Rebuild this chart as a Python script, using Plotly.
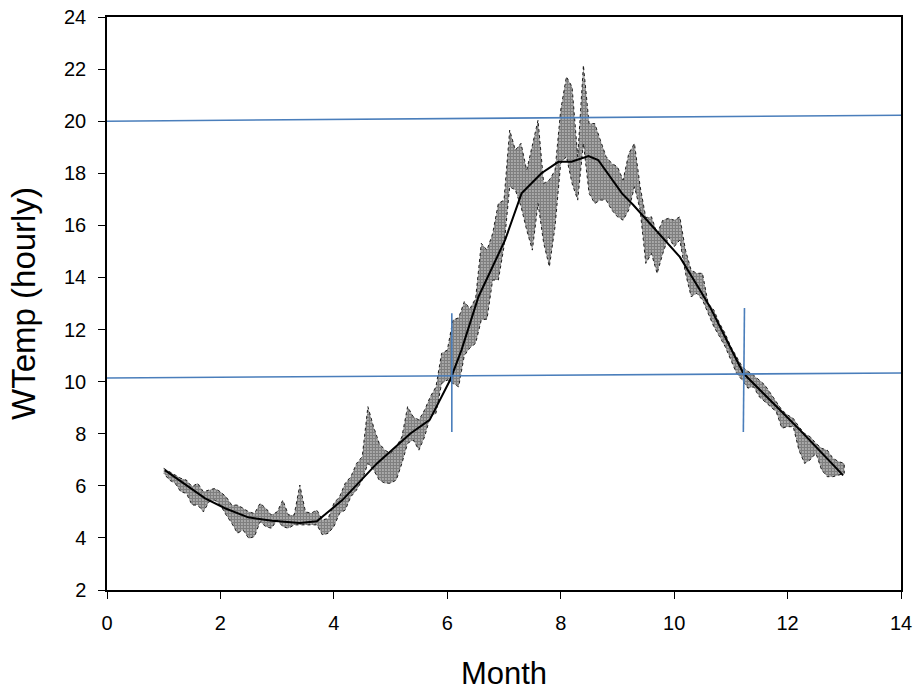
import plotly.graph_objects as go

# hourly water temperature cloud, read as low/high envelope every 0.1 month
cloud_month = [round(1.0 + 0.1 * i, 1) for i in range(121)]
cloud_low = [
    6.48, 6.22, 6.10, 5.77, 5.71, 5.26, 5.26, 5.00, 5.39, 5.45,
    5.26, 4.88, 4.56, 4.18, 4.30, 3.98, 4.05, 4.62, 4.43, 4.37,
    4.69, 4.43, 4.37, 4.50, 4.50, 4.50, 4.50, 4.50, 4.11, 4.18,
    4.43, 4.94, 5.07, 5.58, 5.84, 6.22, 6.86, 6.61, 6.22, 6.10,
    6.10, 6.22, 6.86, 7.63, 7.76, 7.37, 7.88, 8.65, 8.78, 9.93,
    10.06, 9.93, 9.80, 11.00, 11.30, 11.47, 12.37, 12.40, 13.90, 13.90,
    15.18, 17.48, 17.36, 16.72, 15.82, 15.05, 16.84, 15.31, 14.41, 15.95,
    18.38, 18.64, 17.61, 16.97, 19.15, 17.23, 16.84, 16.97, 16.97, 16.59,
    16.33, 16.20, 16.59, 17.48, 16.60, 14.54, 14.92, 14.15, 14.92, 15.56,
    15.18, 15.44, 14.16, 13.26, 13.39, 13.13, 12.62, 12.11, 11.73, 11.34,
    10.83, 10.32, 10.06, 9.75, 9.80, 9.42, 9.23, 9.04, 8.84, 8.21,
    8.27, 8.27, 7.37, 6.86, 7.00, 7.25, 6.61, 6.35, 6.35, 6.41,
    6.48,
]
cloud_high = [
    6.67, 6.54, 6.41, 6.29, 6.22, 5.97, 6.10, 5.77, 5.84, 5.90,
    5.77, 5.58, 5.26, 5.26, 5.14, 5.00, 4.94, 5.33, 5.14, 4.88,
    5.00, 5.45, 4.88, 4.88, 6.03, 5.00, 4.95, 5.07, 4.69, 4.75,
    5.33, 5.58, 6.10, 6.35, 6.86, 7.12, 9.04, 8.27, 7.63, 7.37,
    7.25, 7.50, 7.88, 9.04, 8.65, 8.53, 8.91, 9.42, 9.80, 11.09,
    11.21, 12.37, 12.45, 13.07, 12.80, 13.20, 15.31, 15.05, 15.69, 16.84,
    16.97, 19.66, 18.89, 19.15, 18.12, 19.02, 20.04, 17.61, 17.74, 18.12,
    20.43, 21.71, 21.32, 18.64, 22.15, 19.91, 19.91, 19.27, 18.64, 18.38,
    18.25, 17.74, 18.76, 19.15, 17.50, 16.30, 16.33, 15.69, 16.20, 16.27,
    16.20, 16.33, 15.05, 14.28, 14.16, 14.16, 13.00, 12.75, 12.24, 11.85,
    11.34, 10.96, 10.57, 10.40, 10.25, 10.06, 9.87, 9.55, 9.23, 8.91,
    8.72, 8.59, 8.27, 8.01, 7.88, 7.63, 7.44, 7.37, 7.06, 6.93,
    6.86,
]

# smoothed black curve
mean_month = [1.02, 1.73, 2.08, 2.49, 2.91, 3.40, 3.70, 4.15, 4.76, 5.35,
              5.69, 6.05, 6.25, 6.55, 7.02, 7.31, 7.66, 7.96, 8.19, 8.49,
              8.66, 9.08, 9.28, 10.10, 10.46, 10.63, 11.22, 12.22, 12.98]
mean_temp = [6.60, 5.52, 5.14, 4.79, 4.66, 4.57, 4.64, 5.45, 6.86, 8.01,
             8.53, 10.06, 11.21, 13.26, 15.44, 17.23, 18.00, 18.44, 18.44, 18.66,
             18.51, 17.23, 16.78, 14.79, 13.50, 12.88, 10.32, 8.14, 6.40]

# blue reference lines
upper_x = [0, 14]
upper_y = [20.0, 20.23]
lower_x = [0, 14]
lower_y = [10.14, 10.33]
vert1_x = [6.08, 6.08]
vert1_y = [8.07, 12.63]
vert2_x = [11.22, 11.24]
vert2_y = [8.07, 12.83]

x_ticks = [0, 2, 4, 6, 8, 10, 12, 14]
y_ticks = [2, 4, 6, 8, 10, 12, 14, 16, 18, 20, 22, 24]

blue = "#4a7ebb"

fig = go.Figure()

poly_x = cloud_month + cloud_month[::-1]
poly_y = cloud_high + cloud_low[::-1]
fig.add_trace(go.Scatter(
    x=poly_x, y=poly_y, mode="lines", fill="toself",
    line=dict(width=1, color="rgba(0,0,0,0.85)", dash="dot"),
    fillcolor="rgba(0,0,0,0)",
    fillpattern=dict(shape=".", fgcolor="black", bgcolor="rgba(0,0,0,0)",
                     size=3, solidity=0.8),
    hoverinfo="skip", showlegend=False,
))

fig.add_trace(go.Scatter(x=mean_month, y=mean_temp, mode="lines",
                         line=dict(color="black", width=2), showlegend=False))

for xs, ys in [(upper_x, upper_y), (lower_x, lower_y), (vert1_x, vert1_y), (vert2_x, vert2_y)]:
    fig.add_trace(go.Scatter(x=xs, y=ys, mode="lines",
                             line=dict(color=blue, width=1.6), showlegend=False))

axis_common = dict(
    showgrid=False, zeroline=False, showline=True, linecolor="black", linewidth=1.5,
    mirror=True, ticks="outside", ticklen=7, tickwidth=1.2, tickcolor="black",
    automargin=False, ticklabeloverflow="allow",
    tickfont=dict(family="Liberation Sans, Arial", size=20, color="black"),
)

fig.update_layout(
    width=920, height=694,
    margin=dict(l=107, r=19, t=17, b=104),
    paper_bgcolor="white", plot_bgcolor="white",
    font=dict(family="Liberation Sans, Arial", color="black"),
    xaxis=dict(range=[0, 14], tickvals=x_ticks, ticklabelstandoff=7,
               title=dict(text="Month", font=dict(size=31), standoff=30),
               **axis_common),
    yaxis=dict(range=[2, 24], tickvals=y_ticks, ticklabelstandoff=8,
               title=dict(text="WTemp (hourly)", font=dict(size=33), standoff=18),
               **axis_common),
)

fig.write_html("out.html", config={"displayModeBar": False},
               post_script="document.body.style.margin='0';document.body.style.overflow='hidden';")
